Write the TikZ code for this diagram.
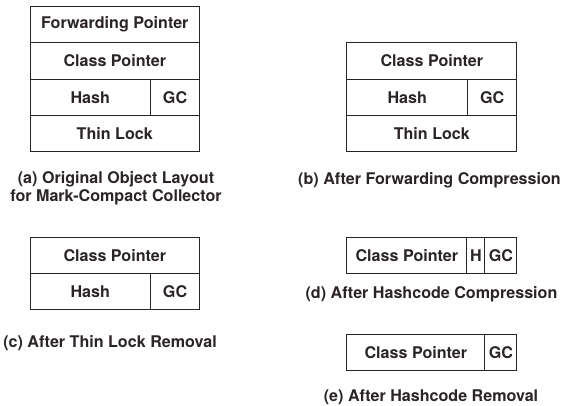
\documentclass[tikz,border=0pt]{standalone}
\usepackage{fontspec}
\setmainfont{TeX Gyre Heros}
\definecolor{ink}{HTML}{2A2428}
\begin{document}
\begin{tikzpicture}[x=1pt,y=-1pt,
  lbl/.style={font=\bfseries\fontsize{16.1}{17.5}\selectfont, text=ink},
  cell/.style={lbl, draw=ink, line width=1.1pt, inner sep=0pt, anchor=north west, minimum height=#1},
  cell/.default=36.3,
  captext/.style={lbl, align=center, inner sep=0pt}]
\useasboundingbox (0,0) rectangle (564,405);
% (a)
\node[cell, minimum width=169.5] (aF) at (29.5,6) {Forwarding Pointer};
\node[cell, minimum width=169.5] (aC) at (29.5,42.3) {Class Pointer};
\node[cell, minimum width=120.5] (aH) at (29.5,78.6) {Hash};
\node[cell, minimum width=49] (aG) at (150,78.6) {GC};
\node[cell, minimum width=169.5] (aT) at (29.5,114.9) {Thin Lock};
\node[captext] (capa) at (116,188.5) {(a) Original Object Layout\\for Mark-Compact Collector};
% (b)
\node[cell, minimum width=170] (bC) at (346.3,42.3) {Class Pointer};
\node[cell, minimum width=120.7] (bH) at (346.3,78.6) {Hash};
\node[cell, minimum width=49.3] (bG) at (467,78.6) {GC};
\node[cell, minimum width=170] (bT) at (346.3,114.9) {Thin Lock};
\node[captext] (capb) at (429.5,180) {(b) After Forwarding Compression};
% (c)
\node[cell=36, minimum width=169.5] (cC) at (29.5,236.7) {Class Pointer};
\node[cell=36, minimum width=120.5] (cH) at (29.5,272.7) {Hash};
\node[cell=36, minimum width=49] (cG) at (150,272.7) {GC};
\node[captext] (capc) at (110,343) {(c) After Thin Lock Removal};
% (d)
\node[cell=36, minimum width=120] (dC) at (346.3,236.7) {Class Pointer};
\node[cell=36, minimum width=18] (dH) at (466.3,236.7) {H};
\node[cell=36, minimum width=32] (dG) at (484.3,236.7) {GC};
\node[captext] (capd) at (431.5,294) {(d) After Hashcode Compression};
% (e)
\node[cell=35.7, minimum width=138] (eC) at (346.3,334.3) {Class Pointer};
\node[cell=35.7, minimum width=32] (eG) at (484.3,334.3) {GC};
\node[captext] (cape) at (431,397.5) {(e) After Hashcode Removal};
\end{tikzpicture}
\end{document}
